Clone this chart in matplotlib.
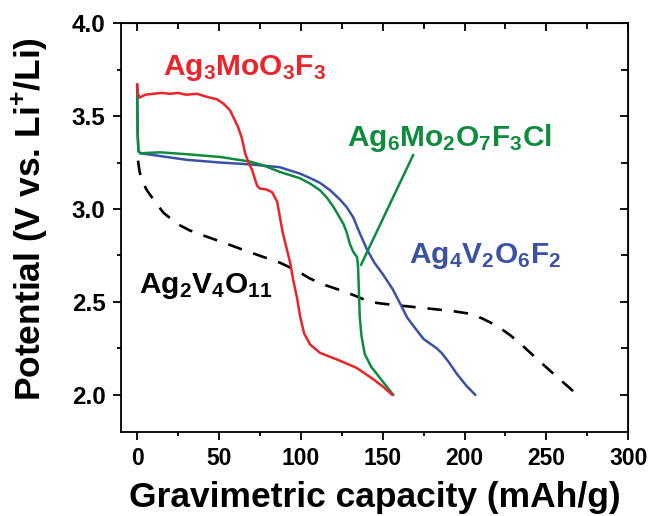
import numpy as np
import matplotlib
matplotlib.use('Agg')
import matplotlib.pyplot as plt
from matplotlib.ticker import MultipleLocator, FormatStrFormatter

plt.rcParams['font.family'] = ['Liberation Sans', 'DejaVu Sans']
plt.rcParams['font.weight'] = 'bold'
plt.rcParams['mathtext.fontset'] = 'custom'
plt.rcParams['mathtext.rm'] = 'Liberation Sans:bold'
plt.rcParams['mathtext.bf'] = 'Liberation Sans:bold'
plt.rcParams['mathtext.it'] = 'Liberation Sans:bold'

# Ag3MoO3F3 (red)
red_x = [0, 0.5, 1.5, 5, 10, 15, 20, 25, 30, 36.6, 42, 48.9, 53, 56.8, 59, 61.7,
         64, 66, 68, 70.2, 72, 73.3, 75, 79, 82.5, 85.5, 89, 93.5, 95.3, 97.7,
         99.6, 102, 105.7, 111.8, 122, 134, 144, 150, 155.8]
red_y = [3.67, 3.62, 3.60, 3.615, 3.62, 3.625, 3.62, 3.625, 3.615, 3.62, 3.605,
         3.59, 3.565, 3.53, 3.49, 3.44, 3.38, 3.30, 3.25, 3.21, 3.16, 3.125, 3.11,
         3.105, 3.09, 3.04, 2.87, 2.71, 2.62, 2.52, 2.42, 2.33, 2.27, 2.225,
         2.19, 2.145, 2.085, 2.045, 2.0]

# Ag6Mo2O7F3Cl (green)
green_x = [0, 0.3, 0.8, 2, 14, 30, 50.7, 69, 77, 87, 99.6, 106, 111.8, 116, 120,
           123, 126, 128, 130, 132, 134.4, 135, 135.5, 136, 137, 139, 143, 146.6,
           151, 156.4]
green_y = [3.62, 3.40, 3.31, 3.30, 3.305, 3.295, 3.28, 3.255, 3.235, 3.20, 3.165,
           3.135, 3.10, 3.06, 3.01, 2.965, 2.92, 2.875, 2.81, 2.77, 2.74, 2.68,
           2.55, 2.42, 2.32, 2.22, 2.15, 2.11, 2.06, 2.0]

# Ag4V2O6F2 (blue)
blue_x = [0, 0.3, 0.8, 2, 14, 30, 50.7, 69, 87, 99.6, 106, 111.8, 118, 124, 128,
          132, 136, 140.5, 145, 150, 156, 160.7, 165, 171, 175, 179, 183, 186,
          190, 195.5, 201, 206.5]
blue_y = [3.67, 3.40, 3.31, 3.30, 3.285, 3.265, 3.25, 3.24, 3.225, 3.19, 3.165,
          3.14, 3.10, 3.05, 3.01, 2.955, 2.87, 2.78, 2.71, 2.65, 2.57, 2.49,
          2.415, 2.345, 2.30, 2.275, 2.25, 2.225, 2.18, 2.11, 2.05, 2.0]

# Ag2V4O11 (black dashed)
black_x = [0.5, 1.5, 3, 6, 10, 16, 24.4, 32, 42.8, 54, 64.8, 76, 87.4, 97, 105.7,
           115, 125, 134, 142, 150, 160.7, 177, 193, 204, 211, 220, 228, 236,
           244, 256, 267.6]
black_y = [3.26, 3.20, 3.15, 3.10, 3.05, 2.98, 2.92, 2.885, 2.85, 2.815, 2.78,
           2.745, 2.71, 2.67, 2.625, 2.59, 2.56, 2.53, 2.50, 2.49, 2.48, 2.465,
           2.45, 2.435, 2.41, 2.37, 2.32, 2.26, 2.195, 2.10, 2.01]

red = '#EC2329'
green = '#0E8C3E'
blue = '#3A51A5'

fig = plt.figure(figsize=(6.53, 5.16), dpi=100)
ax = fig.add_axes([0.185, 0.163, 0.777, 0.792])

ax.plot(black_x, black_y, color='black', lw=1.9, dashes=(5.5, 4.5))
ax.plot(blue_x, blue_y, color=blue, lw=1.8)
ax.plot(green_x, green_y, color=green, lw=1.8)
ax.plot(red_x, red_y, color=red, lw=1.8)

# leader line for the green label
ax.plot([168.6, 136.8], [3.29, 2.70], color=green, lw=1.8)

ax.text(15.9, 3.72, r'$\mathrm{Ag_3MoO_3F_3}$', color=red, fontsize=21.5)
ax.text(128.3, 3.34, r'$\mathrm{Ag_6Mo_2O_7F_3Cl}$', color=green, fontsize=21.5)
ax.text(166, 2.707, r'$\mathrm{Ag_4V_2O_6F_2}$', color=blue, fontsize=21.5)
ax.text(1.3, 2.55, r'$\mathrm{Ag_2V_4O_{11}}$', color='black', fontsize=21.5)

ax.set_xlim(-10, 300)
ax.set_ylim(1.8, 4.0)
ax.xaxis.set_major_locator(MultipleLocator(50))
ax.xaxis.set_minor_locator(MultipleLocator(25))
ax.yaxis.set_major_locator(MultipleLocator(0.5))
ax.yaxis.set_minor_locator(MultipleLocator(0.25))
ax.yaxis.set_major_formatter(FormatStrFormatter('%.1f'))

for s in ax.spines.values():
    s.set_linewidth(1.3)

ax.tick_params(which='both', direction='out', width=1.3, labelsize=16.5, pad=5)
ax.tick_params(axis='y', labelsize=17.5)
ax.tick_params(which='major', length=6)
ax.tick_params(which='minor', length=3)

# mirrored ticks on top/right pointing inward
sec_x = ax.secondary_xaxis('top')
sec_x.xaxis.set_major_locator(MultipleLocator(50))
sec_x.xaxis.set_minor_locator(MultipleLocator(25))
sec_x.tick_params(which='both', direction='in', width=1.3, labeltop=False)
sec_x.tick_params(which='major', length=6)
sec_x.tick_params(which='minor', length=4)
sec_y = ax.secondary_yaxis('right')
sec_y.yaxis.set_major_locator(MultipleLocator(0.5))
sec_y.yaxis.set_minor_locator(MultipleLocator(0.25))
sec_y.tick_params(which='both', direction='in', width=1.3, labelright=False)
sec_y.tick_params(which='major', length=6)
sec_y.tick_params(which='minor', length=5)

ax.set_xlabel('Gravimetric capacity (mAh/g)', fontsize=25.5, fontweight='bold', labelpad=8)
ax.set_ylabel(r'Potential (V vs. Li$^{+}$/Li)', fontsize=25.5, fontweight='bold')
ax.yaxis.set_label_coords(-0.14, 0.52)

fig.savefig('out.png', dpi=100)
